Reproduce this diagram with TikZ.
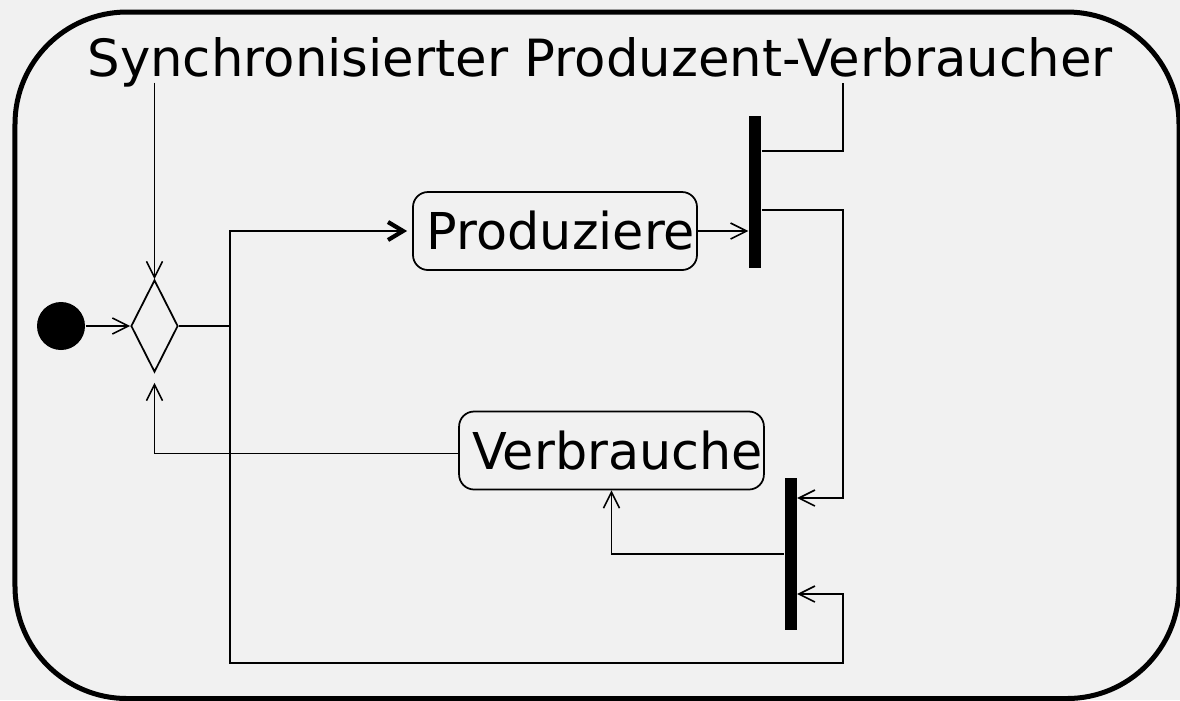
\documentclass[tikz,border=0pt]{standalone}
\usepackage{fontspec}
\setmainfont{DejaVu Sans}
\usetikzlibrary{positioning, shapes.geometric, arrows.meta}

\definecolor{bggray}{HTML}{F1F1F1}

\tikzset{
  arr/.style={-{Straight Barb[length=1.6mm,width=1.6mm]}, line width=0.45pt},
  boldarr/.style={-{Straight Barb[length=1.5mm,width=1.8mm,line width=1.2pt]}, line width=0.8pt},
  action/.style={draw, line width=0.5pt, rounded corners=0.15cm, inner xsep=0.3pt,
    minimum height=0.78cm, font=\fontsize{14.45pt}{16pt}\selectfont,
    execute at begin node=\hspace{0.12cm}},
  syncbar/.style={fill=black, inner sep=0pt, minimum width=0.12cm, minimum height=1.52cm},
  decision/.style={draw, diamond, line width=0.5pt, inner sep=0pt, minimum width=0.47cm, minimum height=0.92cm},
  initial/.style={circle, fill=black, inner sep=0pt, minimum size=0.48cm}
}

\begin{document}
\begin{tikzpicture}
    \useasboundingbox[fill=bggray] (0,0) rectangle (11.8,-7.0);

    % Frame of the activity
    \draw[line width=0.05cm, rounded corners=1.12cm] (0.15,-0.12) rectangle (11.79,-6.985);

    % Title
    \node[anchor=base, inner sep=0pt, text depth=0.06cm, font=\fontsize{14.6pt}{17pt}\selectfont]
      (title) at (6.0,-0.76) {Synchronisierter Produzent-Verbraucher};

    % Nodes
    \node[initial] (start) at (0.61,-3.26) {};
    \node[decision] (dec) at (1.545,-3.26) {};
    \node[action, minimum width=2.84cm] (prod) at (5.55,-2.31) {Produziere};
    \node[action, minimum width=3.04cm] (verb) at (6.115,-4.505) {Verbrauche};
    \node[syncbar] (fork) at (7.55,-1.92) {};
    \node[syncbar] (join) at (7.905,-5.54) {};

    % Helper points
    \coordinate (split) at (2.30,-3.26);
    \coordinate (back) at (8.43,-6.63);

    % Connectors
    \draw[arr] (start) -- (dec.west);
    \draw[arr] (title.south -| dec.north) -- (dec.north);
    \draw[line width=0.6pt] (dec.east) -- (split);
    \draw[boldarr] (split) |- ([xshift=-0.05cm]prod.west);
    \draw[arr] (split) |- (back) |- ([yshift=-0.4cm]join.east);
    \draw[arr] (prod.east) -- (fork.west |- prod.east);
    \draw[line width=0.45pt] ([yshift=0.41cm]fork.east) -| (title.south -| back);
    \draw[arr] ([yshift=-0.18cm]fork.east) -| ([yshift=0.56cm]join.east -| back) -- ([yshift=0.56cm]join.east);
    \draw[arr] (join.west) -| (verb.south);
    \draw[arr, shorten >=0.1cm] ([yshift=-0.03cm]verb.west) -| (dec.south);
\end{tikzpicture}
\end{document}
